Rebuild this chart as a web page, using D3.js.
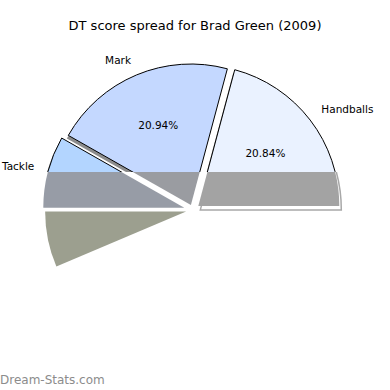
<!DOCTYPE html>
<html>
<head>
<meta charset="utf-8">
<script src="https://cdn.jsdelivr.net/npm/d3@7"></script>
<style>
  body { margin: 0; background: #fff; }
  svg { display: block; font-family: "DejaVu Sans", sans-serif; }
</style>
</head>
<body>
<div id="chart"></div>
<script>
// slice data (percent of DT score), counter-clockwise from 3 o'clock
const categories = ["Handballs", "Mark", "Tackle", "Goal", "Kick"];
const shares = [20.84, 20.94, 8.22, 6.4, 43.6];
const showLabel = [true, true, true, false, false];
const showPct = [true, true, false, false, false];
const explode = [6.7, 5.4, 9, 7, 0];

const topColors = ["#eaf2ff", "#c4d8ff", "#b3d5ff", "#9c9f8f", "none"];
const bandColors = ["#a3a3a3", "#9a9ca1", "#979ca6", "#9c9f8f", "none"];

const width = 390, height = 390;
const cx = 193, cy = 210, radius = 141;
const bandTop = 172;

const svg = d3.select("#chart").append("svg")
    .attr("width", width)
    .attr("height", height);

const defs = svg.append("defs");
defs.append("clipPath").attr("id", "clipTop")
    .append("rect").attr("x", 0).attr("y", 0).attr("width", width).attr("height", bandTop);
defs.append("clipPath").attr("id", "clipBand")
    .append("rect").attr("x", 0).attr("y", bandTop).attr("width", width).attr("height", height - bandTop);

// matplotlib style: start at 3 o'clock, go counter-clockwise
const pie = d3.pie().sort(null).value(d => d)
    .startAngle(Math.PI / 2)
    .endAngle(Math.PI / 2 - 2 * Math.PI);

const arcs = pie(shares);
const arc = d3.arc().innerRadius(0).outerRadius(radius);

const midAngle = d => (d.startAngle + d.endAngle) / 2;
const offset = (d, i) => {
    const a = midAngle(d);
    return [cx + Math.sin(a) * explode[i], cy - Math.cos(a) * explode[i]];
};

const visible = arcs.map((d, i) => ({ ...d, i })).filter(d => topColors[d.i] !== "none");

// shadows
const gShadowTop = svg.append("g").attr("clip-path", "url(#clipTop)");
gShadowTop.selectAll("path").data(visible).enter().append("path")
    .attr("d", arc)
    .attr("transform", d => { const o = offset(d, d.i); return `translate(${o[0] - 1.5},${o[1] + 3})`; })
    .attr("fill", "#8c8c8c");

// only the first slice leaves a visible shadow edge under the grey band
const gShadowBand = svg.append("g").attr("clip-path", "url(#clipBand)");
gShadowBand.selectAll("path").data(visible.filter(d => d.i === 0)).enter().append("path")
    .attr("d", arc)
    .attr("transform", d => { const o = offset(d, d.i); return `translate(${o[0] + 2},${o[1] + 4})`; })
    .attr("fill", "none")
    .attr("stroke", "#a8a8a8")
    .attr("stroke-width", 1.5);

// upper part of slices, with outline
const gTop = svg.append("g").attr("clip-path", "url(#clipTop)");
gTop.selectAll("path").data(visible).enter().append("path")
    .attr("d", arc)
    .attr("transform", d => { const o = offset(d, d.i); return `translate(${o[0]},${o[1]})`; })
    .attr("fill", d => topColors[d.i])
    .attr("stroke", "#000")
    .attr("stroke-width", 1)
    .attr("stroke-linejoin", "round");

// lower band, greyed, no outline
const gBand = svg.append("g").attr("clip-path", "url(#clipBand)");
gBand.selectAll("path").data(visible).enter().append("path")
    .attr("d", arc)
    .attr("transform", d => { const o = offset(d, d.i); return `translate(${o[0]},${o[1]})`; })
    .attr("fill", d => bandColors[d.i]);

// category labels
svg.append("g").selectAll("text")
    .data(visible.filter(d => showLabel[d.i]))
    .enter().append("text")
    .attr("x", d => offset(d, d.i)[0] + Math.sin(midAngle(d)) * radius * 1.1)
    .attr("y", d => offset(d, d.i)[1] - Math.cos(midAngle(d)) * radius * 1.1 - 2)
    .attr("dy", "0.35em")
    .attr("text-anchor", d => Math.sin(midAngle(d)) >= 0 ? "start" : "end")
    .attr("font-size", "10.5px")
    .attr("fill", "#000")
    .text(d => categories[d.i]);

// percentages
svg.append("g").selectAll("text")
    .data(visible.filter(d => showPct[d.i]))
    .enter().append("text")
    .attr("x", d => offset(d, d.i)[0] + Math.sin(midAngle(d)) * radius * 0.6)
    .attr("y", d => offset(d, d.i)[1] - Math.cos(midAngle(d)) * radius * 0.6 - 1.5)
    .attr("dy", "0.35em")
    .attr("text-anchor", "middle")
    .attr("font-size", "10.5px")
    .attr("fill", "#000")
    .text(d => shares[d.i].toFixed(2) + "%");

// title
svg.append("text")
    .attr("x", 195)
    .attr("y", 30)
    .attr("text-anchor", "middle")
    .attr("font-size", "13px")
    .text("DT score spread for Brad Green (2009)");

// watermark
svg.append("text")
    .attr("x", 0)
    .attr("y", 384)
    .attr("font-size", "12px")
    .attr("fill", "#8c8c8c")
    .text("Dream-Stats.com");
</script>
</body>
</html>
